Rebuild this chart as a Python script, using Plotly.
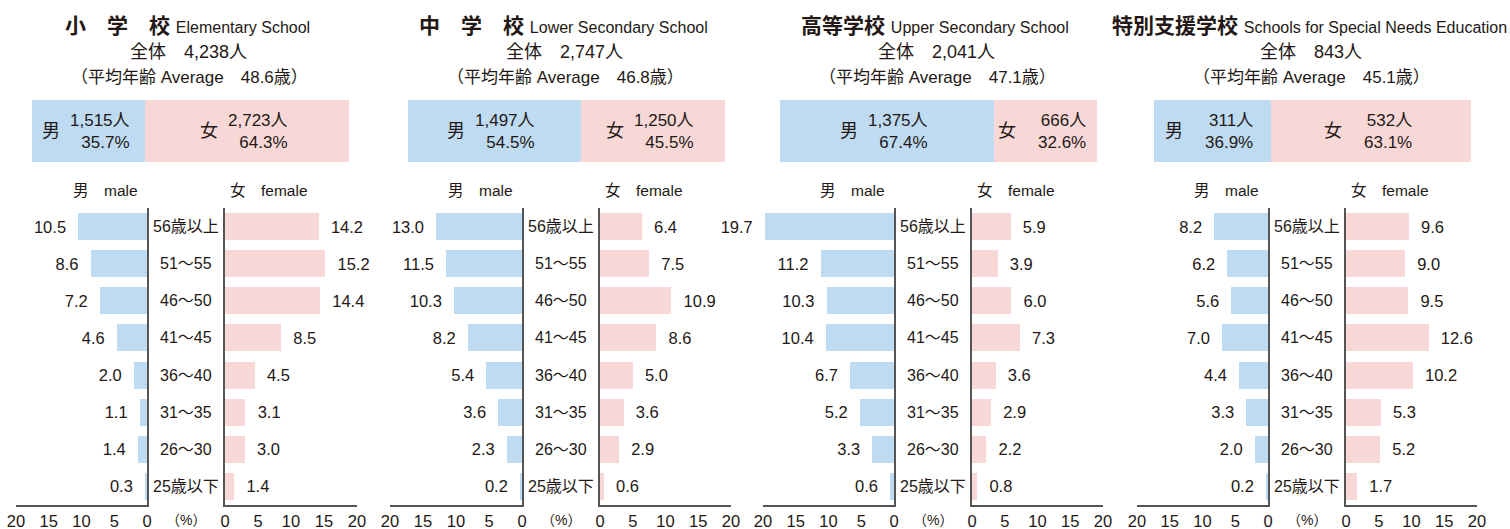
import plotly.graph_objects as go

W, H = 1510, 529

# ---------------- data ----------------
ages = ["56歳以上", "51～55", "46～50", "41～45", "36～40", "31～35", "26～30", "25歳以下"]

titles_jp = ["小　学　校", "中　学　校", "高等学校", "特別支援学校"]
titles_en = ["Elementary School", "Lower Secondary School", "Upper Secondary School",
             "Schools for Special Needs Education"]
totals = ["4,238", "2,747", "2,041", "843"]
avg_age = ["48.6", "46.8", "47.1", "45.1"]
male_count = ["1,515", "1,497", "1,375", "311"]
female_count = ["2,723", "1,250", "666", "532"]
male_pct = [35.7, 54.5, 67.4, 36.9]
female_pct = [64.3, 45.5, 32.6, 63.1]

male_elem = [10.5, 8.6, 7.2, 4.6, 2.0, 1.1, 1.4, 0.3]
female_elem = [14.2, 15.2, 14.4, 8.5, 4.5, 3.1, 3.0, 1.4]
male_lower = [13.0, 11.5, 10.3, 8.2, 5.4, 3.6, 2.3, 0.2]
female_lower = [6.4, 7.5, 10.9, 8.6, 5.0, 3.6, 2.9, 0.6]
male_upper = [19.7, 11.2, 10.3, 10.4, 6.7, 5.2, 3.3, 0.6]
female_upper = [5.9, 3.9, 6.0, 7.3, 3.6, 2.9, 2.2, 0.8]
male_special = [8.2, 6.2, 5.6, 7.0, 4.4, 3.3, 2.0, 0.2]
female_special = [9.6, 9.0, 9.5, 12.6, 10.2, 5.3, 5.2, 1.7]

male_series = [male_elem, male_lower, male_upper, male_special]
female_series = [female_elem, female_lower, female_upper, female_special]

tick_vals = [0, 5, 10, 15, 20]
tick_text = ["0", "5", "10", "15", "20"]

# ---------------- layout geometry (pixels) ----------------
male_dom = [(16, 147), (390, 522), (763, 894), (1137, 1268)]
female_dom = [(225, 357), (600, 731), (972, 1103), (1346, 1477)]
box_left = [32, 408, 780, 1154]
box_w = 317
box_top, box_bot = 100, 162
plot_top, plot_bot = 208, 505

BLUE = "#BEDBF2"
PINK = "#F8D8D7"
TXT = "#231815"
LINE = "#555555"
FONT = "Liberation Sans, Arial, Noto Sans CJK JP, sans-serif"
NB = "\u00a0"


def fx(px):
    return px / W


def fy(py):
    return 1 - py / H


fig = go.Figure()
layout = dict(
    template="none",
    width=W, height=H, autosize=False,
    margin=dict(l=0, r=0, t=0, b=0, pad=0, autoexpand=False),
    paper_bgcolor="white", plot_bgcolor="white",
    showlegend=False, barmode="stack",
    font=dict(family=FONT, color=TXT, size=16),
)
annotations = []

for p in range(4):
    mi = 2 * p + 1
    fi = 2 * p + 2
    bi = 9 + p
    # male bars
    fig.add_trace(go.Bar(
        x=male_series[p], y=ages, orientation="h", xaxis=f"x{mi}", yaxis=f"y{mi}",
        marker=dict(color=BLUE, line=dict(width=0)), width=0.73,
        texttemplate="%{x:.1f}" + NB * 2, textposition="outside",
        textfont=dict(size=16.5, color=TXT), cliponaxis=False, constraintext="none",
        hoverinfo="skip"))
    # female bars
    fig.add_trace(go.Bar(
        x=female_series[p], y=ages, orientation="h", xaxis=f"x{fi}", yaxis=f"y{fi}",
        marker=dict(color=PINK, line=dict(width=0)), width=0.73,
        texttemplate=NB * 2 + "%{x:.1f}", textposition="outside",
        textfont=dict(size=16.5, color=TXT), cliponaxis=False, constraintext="none",
        hoverinfo="skip"))
    # summary box (100% stacked)
    fig.add_trace(go.Bar(
        x=[male_pct[p]], y=[0], orientation="h", xaxis=f"x{bi}", yaxis=f"y{bi}",
        marker=dict(color=BLUE, line=dict(width=0)), width=1, hoverinfo="skip"))
    fig.add_trace(go.Bar(
        x=[female_pct[p]], y=[0], orientation="h", xaxis=f"x{bi}", yaxis=f"y{bi}",
        marker=dict(color=PINK, line=dict(width=0)), width=1, hoverinfo="skip"))

    xa_common = dict(
        showgrid=False, zeroline=False, showline=True, linecolor=LINE, linewidth=1.5,
        ticks="", tickvals=tick_vals, ticktext=tick_text, automargin=False,
        tickfont=dict(size=16.5, color=TXT), fixedrange=True)
    ya_common = dict(
        type="category", categoryorder="array", categoryarray=ages,
        range=[7.5, -0.5], domain=[fy(plot_bot), fy(plot_top)], automargin=False,
        showgrid=False, zeroline=False, showline=True, linecolor=LINE, linewidth=1.5,
        showticklabels=False, ticks="", fixedrange=True)

    layout[f"xaxis{mi}"] = dict(xa_common, domain=[fx(male_dom[p][0]), fx(male_dom[p][1])],
                                range=[20, 0], anchor=f"y{mi}")
    layout[f"yaxis{mi}"] = dict(ya_common, anchor=f"x{mi}", side="right")
    layout[f"xaxis{fi}"] = dict(xa_common, domain=[fx(female_dom[p][0]), fx(female_dom[p][1])],
                                range=[0, 20], anchor=f"y{fi}")
    layout[f"yaxis{fi}"] = dict(ya_common, anchor=f"x{fi}", side="left")

    layout[f"xaxis{bi}"] = dict(domain=[fx(box_left[p]), fx(box_left[p] + box_w)], range=[0, 100],
                                visible=False, automargin=False, anchor=f"y{bi}", fixedrange=True)
    layout[f"yaxis{bi}"] = dict(domain=[fy(box_bot), fy(box_top)], range=[-0.5, 0.5],
                                visible=False, automargin=False, anchor=f"x{bi}", fixedrange=True)

    # header text
    cx = box_left[p] + box_w / 2
    annotations.append(dict(
        x=fx(cx - 3), y=fy(25), xref="paper", yref="paper", showarrow=False,
        text=f"<b>{titles_jp[p]}</b> <span style='font-size:16px'>{titles_en[p]}</span>",
        font=dict(size=21, color=TXT), xanchor="center", yanchor="middle"))
    annotations.append(dict(
        x=fx(cx - 2), y=fy(52), xref="paper", yref="paper", showarrow=False,
        text=f"全体　{totals[p]}人", font=dict(size=18, color=TXT),
        xanchor="center", yanchor="middle"))
    annotations.append(dict(
        x=fx(cx - 1), y=fy(78), xref="paper", yref="paper", showarrow=False,
        text=f"（平均年齢 Average　{avg_age[p]}歳）", font=dict(size=17, color=TXT),
        xanchor="center", yanchor="middle"))

    # box labels
    for pos, ch, cnt, pct in [
        (male_pct[p] / 2, "男", male_count[p], male_pct[p]),
        (male_pct[p] + female_pct[p] / 2, "女", female_count[p], female_pct[p]),
    ]:
        annotations.append(dict(
            x=pos, y=0, xref=f"x{bi}", yref=f"y{bi}", showarrow=False, text=ch,
            xshift=-38, font=dict(size=18, color=TXT), xanchor="center", yanchor="middle"))
        annotations.append(dict(
            x=pos, y=0, xref=f"x{bi}", yref=f"y{bi}", showarrow=False,
            text=f"{cnt}人<br>{pct:.1f}%", align="right", xshift=43,
            font=dict(size=17, color=TXT), xanchor="right", yanchor="middle"))

    # male / female headers
    annotations.append(dict(
        x=fx(male_dom[p][1] - 7), y=fy(190), xref="paper", yref="paper", showarrow=False,
        text="男　male", font=dict(size=15.5, color=TXT), xanchor="right", yanchor="middle"))
    annotations.append(dict(
        x=fx(female_dom[p][0] + 3), y=fy(190), xref="paper", yref="paper", showarrow=False,
        text="女　female", font=dict(size=15.5, color=TXT), xanchor="left", yanchor="middle"))

    # age labels between the axes
    mid = (male_dom[p][1] + female_dom[p][0]) / 2
    for i, a in enumerate(ages):
        annotations.append(dict(
            x=fx(mid), y=i, xref="paper", yref=f"y{mi}", showarrow=False, text=a,
            font=dict(size=16, color=TXT), xanchor="center", yanchor="middle"))
    annotations.append(dict(
        x=fx(mid), y=fy(520), xref="paper", yref="paper", showarrow=False, text="（%）",
        font=dict(size=14, color=TXT), xanchor="center", yanchor="middle"))

layout["annotations"] = annotations
fig.update_layout(**layout)

post = (
    "document.documentElement.style.margin='0';"
    "document.documentElement.style.padding='0';"
    "document.documentElement.style.overflow='hidden';"
    "document.body.style.margin='0';"
    "document.body.style.padding='0';"
    "document.body.style.overflow='hidden';"
)
fig.write_html(
    "out.html",
    config={"responsive": False, "displayModeBar": False},
    post_script=post,
)
